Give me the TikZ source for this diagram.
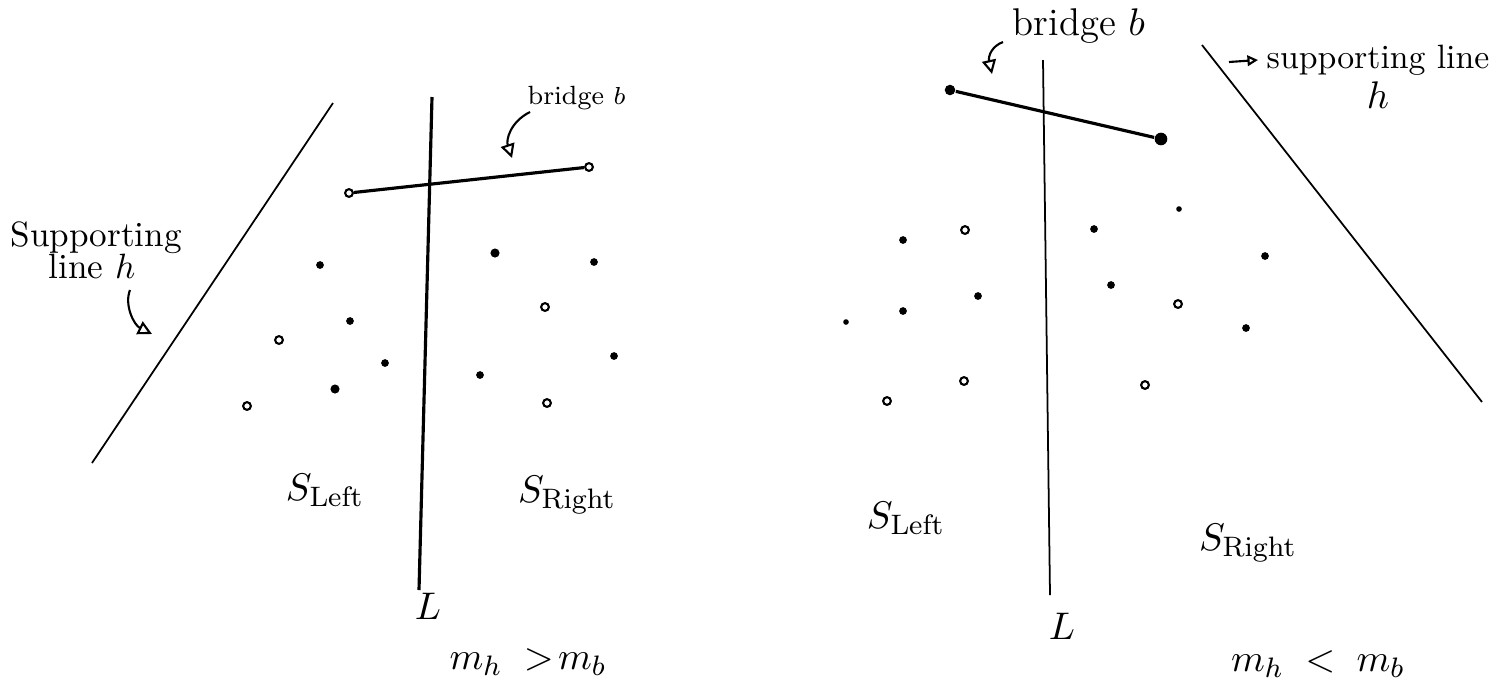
\documentclass[tikz,border=0pt]{standalone}
\usetikzlibrary{arrows.meta}
\begin{document}
\begin{tikzpicture}[x=0.01cm,y=-0.01cm,
  filled/.style={circle,fill=black,inner sep=0pt,minimum size=2.2pt},
  hollow/.style={circle,draw=black,fill=white,line width=0.6pt,inner sep=0pt,minimum size=2.2pt},
  bigdot/.style={circle,fill=black,inner sep=0pt,minimum size=3pt},
  lbl/.style={font=\fontsize{11}{13}\selectfont,inner sep=0pt},
  smalllbl/.style={font=\fontsize{10}{12}\selectfont,inner sep=0pt},
  tinylbl/.style={font=\fontsize{7.5}{9}\selectfont,inner sep=0pt},
  thinline/.style={line width=0.5pt},
  thickline/.style={line width=0.9pt},
  callout/.style={line width=0.6pt,-{Triangle[open,length=4pt,width=4pt]}}]
\useasboundingbox (0,0) rectangle (1497,699);
\fill[white] (0,0) rectangle (1497,699);

% ---------------- left panel ----------------
\coordinate (hLa) at (92,463);
\coordinate (hLb) at (333,103);
\draw[thinline] (hLa) -- (hLb);
\coordinate (LLa) at (432,97);
\coordinate (LLb) at (419,590);
\draw[thickline] (LLa) -- (LLb);
\node[lbl] (LLlab) at (428,606) {$L$};

\node[hollow] (bL1) at (349,193) {};
\node[hollow] (bL2) at (589,167) {};
\draw[thickline] (bL1) -- (bL2);

\node[tinylbl,anchor=west] (bridgeL) at (527,98) {bridge $b$};
\coordinate (bLs) at (530,112);
\coordinate (bLe) at (512,158);
\draw[callout] (bLs) .. controls (510,122) and (506,140) .. (bLe);

\node[smalllbl,anchor=west] (supL1) at (10,238) {Supporting};
\node[smalllbl,anchor=west] (supL2) at (48,266) {line $h$};
\coordinate (sLs) at (130,290);
\coordinate (sLe) at (152,334);
\draw[callout] (sLs) .. controls (124,305) and (134,325) .. (sLe);

% points
\node[filled] (p1) at (320,265) {};
\node[filled] (p2) at (350,321) {};
\node[hollow] (p3) at (279,340) {};
\node[filled] (p4) at (385,363) {};
\node[filled,minimum size=2.6pt] (p5) at (335,389) {};
\node[hollow] (p6) at (247,406) {};
\node[filled,minimum size=2.6pt] (p7) at (495,253) {};
\node[filled] (p8) at (594,262) {};
\node[hollow] (p9) at (545,307) {};
\node[filled] (p10) at (614,356) {};
\node[filled] (p11) at (480,375) {};
\node[hollow] (p12) at (547,403) {};

\node[lbl] (SLl) at (325,490) {$S_{\mathrm{Left}}$};
\node[lbl] (SRl) at (567,495) {$S_{\mathrm{Right}}$};
\node[lbl] (cmpL) at (528,662) {$m_h \;>\! m_b$};

% ---------------- right panel ----------------
\coordinate (LRa) at (1043,60);
\coordinate (LRb) at (1050,595);
\draw[thinline] (LRa) -- (LRb);
\node[lbl] (LRlab) at (1062,626) {$L$};

\node[bigdot] (bR1) at (950,90) {};
\node[bigdot,minimum size=3.6pt] (bR2) at (1161,139) {};
\draw[thickline] (bR1) -- (bR2);

\node[lbl,anchor=west] (bridgeR) at (1012,26) {bridge $b$};
\coordinate (bRs) at (1003,42);
\coordinate (bRe) at (992,74);
\draw[callout] (bRs) .. controls (992,46) and (988,56) .. (bRe);

\coordinate (hRa) at (1202,45);
\coordinate (hRb) at (1482,402);
\draw[thinline] (hRa) -- (hRb);
\coordinate (aRs) at (1229,62);
\coordinate (aRe) at (1258,60);
\draw[line width=0.6pt,-{Triangle[open,length=3pt,width=3pt]}] (aRs) -- (aRe);
\node[smalllbl,anchor=west,font=\fontsize{9.6}{11}\selectfont] (supR1) at (1266,60) {supporting line};
\node[lbl] (supR2) at (1378,95) {$h$};

% points
\node[filled] (q1) at (903,240) {};
\node[hollow] (q2) at (965,230) {};
\node[filled] (q3) at (978,296) {};
\node[filled,minimum size=1.6pt] (q4) at (846,322) {};
\node[filled] (q5) at (903,311) {};
\node[hollow] (q6) at (964,381) {};
\node[hollow] (q7) at (887,401) {};
\node[filled] (q8) at (1094,229) {};
\node[filled,minimum size=1.6pt] (q9) at (1179,209) {};
\node[filled] (q10) at (1265,256) {};
\node[filled] (q11) at (1111,285) {};
\node[hollow] (q12) at (1178,304) {};
\node[filled] (q13) at (1246,328) {};
\node[hollow] (q14) at (1145,385) {};

\node[lbl] (SLr) at (906,518) {$S_{\mathrm{Left}}$};
\node[lbl] (SRr) at (1248,543) {$S_{\mathrm{Right}}$};
\node[lbl] (cmpR) at (1318,664) {$m_h \;<\; m_b$};
\end{tikzpicture}
\end{document}
